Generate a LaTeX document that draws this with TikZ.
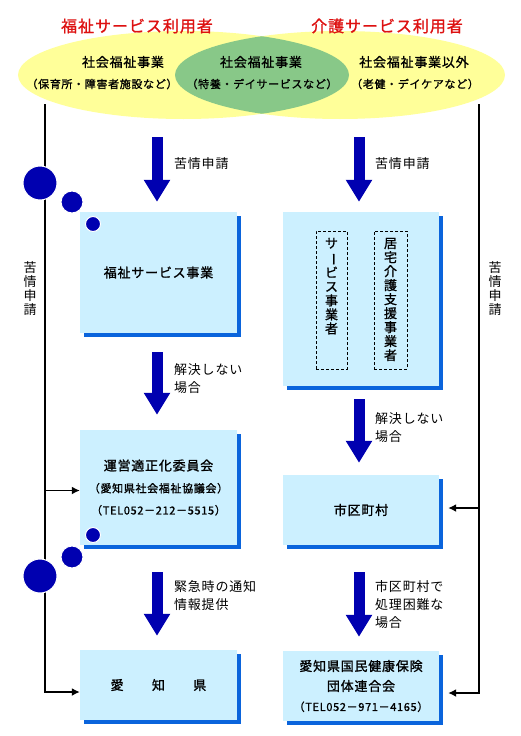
\documentclass[tikz,border=0pt]{standalone}
\usepackage{fontspec}
\setmainfont{Noto Sans CJK JP}[LetterSpace=6]
\newfontfamily\jpbold{Noto Sans CJK JP}[FakeBold=1.2,LetterSpace=6]
\usetikzlibrary{arrows.meta,shadows}
\definecolor{lemon}{HTML}{FFFF99}
\definecolor{leaf}{HTML}{88C888}
\definecolor{sky}{HTML}{CCF0FF}
\definecolor{edgeblue}{HTML}{0A64DC}
\definecolor{navy}{HTML}{0000B0}
\definecolor{titlered}{HTML}{DD1111}
\begin{document}
\begin{tikzpicture}[x=1pt,y=-1pt,>={Latex[length=8pt,width=8pt]},
		panel/.style={fill=sky,inner sep=0pt,align=center,font=\jpbold\fontsize{13}{22}\selectfont,
			drop shadow={shadow xshift=4pt,shadow yshift=-4pt,fill=edgeblue,opacity=1}},
		sub/.style={font=\jpbold\fontsize{11}{11}\selectfont,inner sep=0pt},
		head/.style={font=\jpbold\fontsize{13}{13}\selectfont,inner sep=0pt},
		tatebox/.style={draw,densely dashed,line width=0.6pt,minimum width=31pt,minimum height=138pt,inner sep=0pt},
		tate/.style={align=center,inner sep=0pt,font=\jpbold\fontsize{13}{14}\selectfont},
		note/.style={anchor=west,align=left,inner sep=0pt,font=\fontsize{13}{18}\selectfont},
		bluearrow/.style={draw=navy,line width=11pt,-{Triangle[width=25pt,length=22pt]}},
		wire/.style={line width=1.5pt,->},
		ball/.style={fill=navy,draw=white,line width=1pt}]
	\useasboundingbox (0,0) rectangle (520,736);
	\fill[lemon] (183.5,75) ellipse [x radius=165.5pt,y radius=44pt]
		(340,75) ellipse [x radius=165pt,y radius=44pt];
	\begin{scope}
		\clip (183.5,75) ellipse [x radius=165.5pt,y radius=44pt];
		\fill[leaf] (340,75) ellipse [x radius=165pt,y radius=44pt];
	\end{scope}
	\node[font=\jpbold\fontsize{16}{16}\selectfont,text=titlered,inner sep=0pt] (welfare) at (137,26) {福祉サービス利用者};
	\node[font=\jpbold\fontsize{16}{16}\selectfont,text=titlered,inner sep=0pt] (care) at (387,26) {介護サービス利用者};
	\node[head] (h1) at (123,62) {社会福祉事業};
	\node[sub] (s1) at (102,84) {（保育所・障害者施設など）};
	\node[head] (h2) at (261,62) {社会福祉事業};
	\node[sub] (s2) at (262,84) {（特養・デイサービスなど）};
	\node[head] (h3) at (414,62) {社会福祉事業以外};
	\node[sub] (s3) at (415,84) {（老健・デイケアなど）};
	\coordinate (ltop) at (45,104);
	\coordinate (rtop) at (479,104);
	\coordinate (lstart) at (157,137);
	\coordinate (rstart) at (359,137);
	\node[panel,minimum width=157pt,minimum height=121pt] (svc) at (158.5,272.5) {福祉サービス事業};
	\node[panel,minimum width=156pt,minimum height=174pt] (home) at (361,299) {};
	\node[tatebox] (svcbox) at (331.5,300) {};
	\node[tatebox,minimum width=33pt] (planbox) at (390.5,300) {};
	\node[tate,anchor=north] (svct) at ([yshift=-7pt]svcbox.north) {サ\\\rotatebox[origin=c]{-90}{ー}\\ビ\\ス\\事\\業\\者};
	\node[tate,anchor=north] (plant) at ([yshift=-7pt]planbox.north) {居\\宅\\介\\護\\支\\援\\事\\業\\者};
	\node[panel,minimum width=157pt,minimum height=115pt] (comm) at (158.5,487.5)
		{運営適正化委員会\\{\fontsize{11}{22}\selectfont（愛知県社会福祉協議会）}\\{\fontsize{11}{22}\selectfont（TEL052－212－5515）}};
	\node[panel,minimum width=156pt,minimum height=70pt] (city) at (361,510) {市区町村};
	\node[panel,minimum width=157pt,minimum height=70pt] (ken) at (158.5,685) {愛　　知　　県};
	\node[panel,minimum width=156pt,minimum height=70pt,font=\jpbold\fontsize{13}{20}\selectfont] (kokuho) at (361,686)
		{愛知県国民健康保険\\団体連合会\\{\fontsize{11}{20}\selectfont（TEL052－971－4165）}};
	\draw[bluearrow,shorten >=10pt] (lstart) -- (svc.north -| lstart);
	\draw[bluearrow,shorten >=10pt] (rstart) -- (home.north -| rstart);
	\draw[bluearrow,shorten <=19pt,shorten >=15pt] (svc.south -| lstart) -- (comm.north -| lstart);
	\draw[bluearrow,shorten <=27pt,shorten >=14pt] (comm.south -| lstart) -- (ken.north -| lstart);
	\draw[bluearrow,shorten <=13pt,shorten >=12pt] (home.south -| rstart) -- (city.north -| rstart);
	\draw[bluearrow,shorten <=27pt,shorten >=14pt] (city.south -| rstart) -- (kokuho.north -| rstart);
	\node[note] (n1) at (174,164) {苦情申請};
	\node[note] (n2) at (375,164) {苦情申請};
	\node[note] (n3) at (174,379) {解決しない\\場合};
	\node[note] (n4) at (375,428) {解決しない\\場合};
	\node[note] (n5) at (174,596) {緊急時の通知\\情報提供};
	\node[note] (n6) at (375,605) {市区町村で\\処理困難な\\場合};
	\node[tate,font=\fontsize{13}{14}\selectfont] (kl) at (30,288.5) {苦\\情\\申\\請};
	\node[tate,font=\fontsize{13}{14}\selectfont] (kr) at (495,288.5) {苦\\情\\申\\請};
	\draw[wire] (ltop) |- ([yshift=-7pt]ken.west);
	\draw[wire] (ltop |- comm.west) ++(0,3) -- ([yshift=-3pt]comm.west);
	\draw[wire] (rtop) |- ([xshift=9pt,yshift=-7pt]kokuho.east);
	\draw[wire] (rtop |- city.east) ++(0,-2) -- ([xshift=9pt,yshift=2pt]city.east);
	\path[ball] (40,183) circle [radius=17pt] (72,202) circle [radius=11pt] (93,224) circle [radius=7.5pt]
		(93,535) circle [radius=7.5pt] (72,557) circle [radius=11pt] (40,576) circle [radius=17pt];
\end{tikzpicture}
\end{document}
